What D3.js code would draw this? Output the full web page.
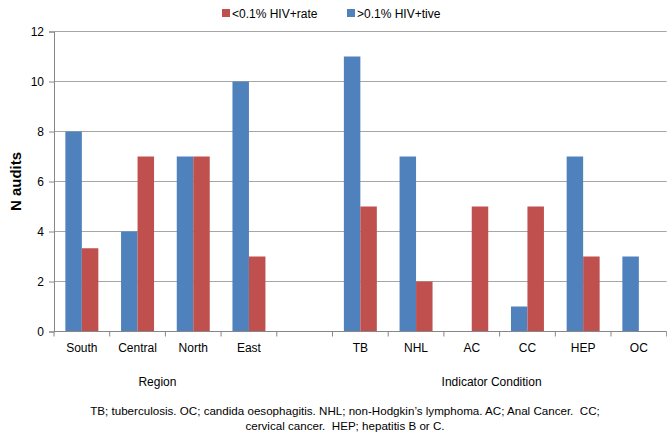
<!DOCTYPE html>
<html>
<head>
<meta charset="utf-8">
<script src="https://cdn.jsdelivr.net/npm/d3@7"></script>
<style>
  body { margin: 0; background: #fff; }
  text { font-family: "Liberation Sans", Arial, sans-serif; fill: #000; }
</style>
</head>
<body>
<div id="chart"></div>
<script>
// Data___________________________________________________________
const categories = ["South", "Central", "North", "East", "", "TB", "NHL", "AC", "CC", "HEP", "OC"];
const highHIV = [8, 4, 7, 10, null, 11, 7, 0, 1, 7, 3];       // >0.1% HIV+tive
const lowHIV = [3.33, 7, 7, 3, null, 5, 2, 5, 5, 3, 0];      // <0.1% HIV+rate
const yTicks = [0, 2, 4, 6, 8, 10, 12];
const seriesNames = ["<0.1% HIV+rate", ">0.1% HIV+tive"];
const groupNames = ["Region", "Indicator Condition"];
const groupFirst = ["South", "TB"];
const groupLast = ["East", "OC"];
const footnote = [
    "TB; tuberculosis. OC; candida oesophagitis. NHL; non-Hodgkin\u2019s lymphoma. AC; Anal Cancer.  CC;",
    "cervical cancer.  HEP; hepatitis B or C."
];

const blue = "#4F81BD";
const red = "#C0504D";

// Sizes__________________________________________________________
const width = 667, height = 435;
const plotLeft = 54, plotRight = 666.7, plotTop = 31.5, plotBottom = 331.5;

const svg = d3.select("#chart").append("svg")
    .attr("width", width)
    .attr("height", height);

const xScale = d3.scaleBand()
    .domain(categories)
    .range([plotLeft, plotRight])
    .padding(0);
const bw = xScale.bandwidth();
const barW = bw * 0.296;

const yScale = d3.scaleLinear()
    .domain([0, 12])
    .range([plotBottom, plotTop]);

// Gridlines
svg.append("g")
    .selectAll("line")
    .data(yTicks.filter(d => d > 0))
    .enter()
    .append("line")
    .attr("x1", plotLeft).attr("x2", plotRight)
    .attr("y1", d => yScale(d)).attr("y2", d => yScale(d))
    .attr("stroke", "#a6a6a6")
    .attr("stroke-width", 1.2);

// Y axis
const yAxis = d3.axisLeft(yScale).tickValues(yTicks).tickSize(5).tickPadding(5);
const gy = svg.append("g")
    .attr("transform", `translate(${plotLeft},0)`)
    .call(yAxis);
gy.select(".domain").attr("stroke", "#868686");
gy.selectAll(".tick line").attr("stroke", "#868686");
gy.selectAll(".tick text").style("font-size", "12px").attr("fill", "#000");

svg.append("text")
    .attr("transform", `translate(21,${(plotTop + plotBottom) / 2}) rotate(-90)`)
    .attr("text-anchor", "middle")
    .style("font-size", "15px")
    .style("font-weight", "bold")
    .text("N audits");

// Bars
const rows = categories.map((c, i) => ({c: c, high: highHIV[i], low: lowHIV[i]}));

svg.append("g").selectAll("rect")
    .data(rows.filter(d => d.high))
    .enter()
    .append("rect")
    .attr("x", d => xScale(d.c) + bw / 2 - barW)
    .attr("y", d => yScale(d.high))
    .attr("width", barW)
    .attr("height", d => yScale(0) - yScale(d.high))
    .attr("fill", blue);

svg.append("g").selectAll("rect")
    .data(rows.filter(d => d.low))
    .enter()
    .append("rect")
    .attr("x", d => xScale(d.c) + bw / 2)
    .attr("y", d => yScale(d.low))
    .attr("width", barW)
    .attr("height", d => yScale(0) - yScale(d.low))
    .attr("fill", red);

// X axis: line, boundary ticks, labels
svg.append("line")
    .attr("x1", plotLeft).attr("x2", plotRight)
    .attr("y1", plotBottom).attr("y2", plotBottom)
    .attr("stroke", "#868686");

const edges = categories.map(c => xScale(c)).concat([plotRight]);
svg.append("g").selectAll("line")
    .data(edges)
    .enter()
    .append("line")
    .attr("x1", d => d).attr("x2", d => d)
    .attr("y1", plotBottom).attr("y2", plotBottom + 5)
    .attr("stroke", "#868686");

svg.append("g").selectAll("text")
    .data(categories)
    .enter()
    .append("text")
    .attr("x", d => xScale(d) + bw / 2)
    .attr("y", 352)
    .attr("text-anchor", "middle")
    .style("font-size", "12px")
    .text(d => d);

svg.append("g").selectAll("text")
    .data(groupNames)
    .enter()
    .append("text")
    .attr("x", (d, i) => (xScale(groupFirst[i]) + xScale(groupLast[i]) + bw) / 2 - 8)
    .attr("y", 386)
    .attr("text-anchor", "middle")
    .style("font-size", "12px")
    .text(d => d);

// Legend
const legend = svg.append("g").selectAll("g")
    .data(seriesNames)
    .enter()
    .append("g")
    .attr("transform", (d, i) => `translate(${222 + i * 125},9)`);
legend.append("rect")
    .attr("width", 8).attr("height", 8)
    .attr("fill", (d, i) => i === 0 ? red : blue);
legend.append("text")
    .attr("x", 10).attr("y", 8.5)
    .style("font-size", "12px")
    .text(d => d);

// Footnote
svg.append("g").selectAll("text")
    .data(footnote)
    .enter()
    .append("text")
    .attr("x", 345)
    .attr("y", (d, i) => 415 + i * 15)
    .attr("text-anchor", "middle")
    .style("font-size", "11.6px")
    .style("white-space", "pre")
    .text(d => d);
</script>
</body>
</html>
